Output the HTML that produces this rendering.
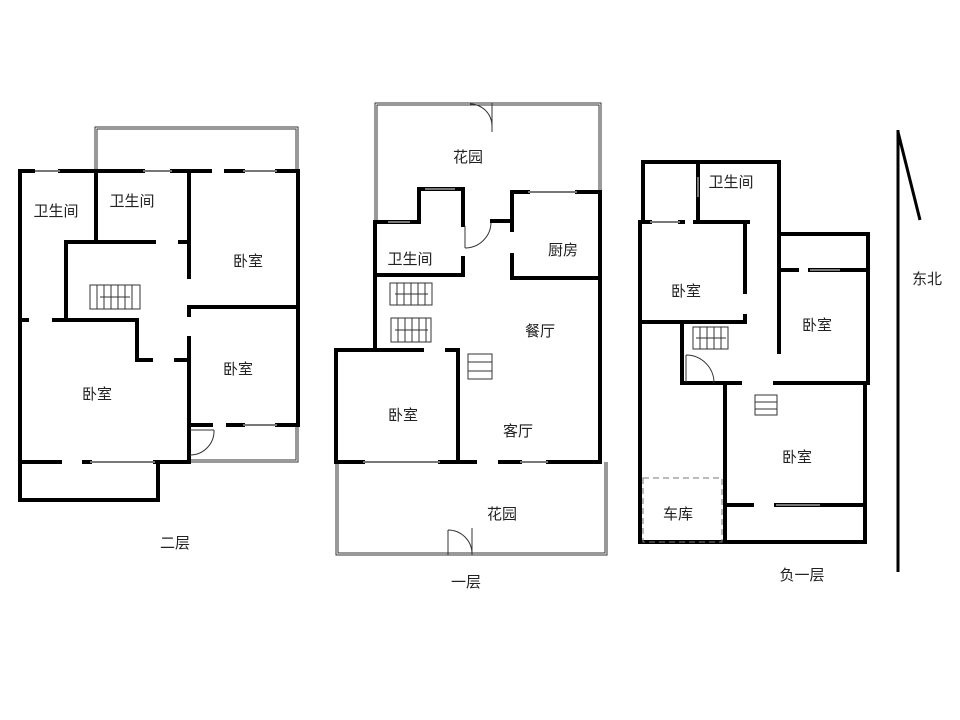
<!DOCTYPE html>
<html><head><meta charset="utf-8"><style>
html,body{margin:0;padding:0;background:#fff;}
svg{display:block;}
text{font-family:"Liberation Sans","Noto Sans CJK SC",sans-serif;font-size:15px;fill:#222;text-anchor:middle;dominant-baseline:middle;}
.w{stroke:#000;stroke-width:4;fill:none;stroke-linecap:square;}
.t{stroke:#333;stroke-width:1;fill:none;}
.win{stroke:#777;stroke-width:2;fill:none;}
</style></head><body>
<svg width="960" height="720" viewBox="0 0 960 720">
<!-- ===== 二层 ===== -->
<path class="t" d="M95 171 V127 H298 V171 M97 171 V129 H296 V171"/>
<path class="t" d="M298 425 V462 H190 M296 425 V460 H190"/>
<path class="w" d="M20 171 H33 M60 171 H143 M172 171 H210 M226 171 H243 M277 171 H298 V425"/>
<path class="win" d="M35 171 H60 M143 171 H172 M243 171 H277"/>
<path class="w" d="M20 171 V500 H158 V462 M20 462 H60 M84 462 H90 M155 462 H189"/>
<path class="win" d="M90 462 H155"/>
<path class="w" d="M96 171 V242 M66 242 H154 M66 242 V320 M20 320 H27 M54 320 H137 V360 H151"/>
<path class="w" d="M189 171 V277 M180 242 H189 M189 307 H298 M189 307 V315 M189 338 V462 M176 360 H189"/>
<path class="w" d="M189 425 H211 M228 425 H243 M277 425 H298"/>
<path class="win" d="M243 425 H277"/>
<path class="t" d="M190 430 H214 M214 430 A24 24 0 0 1 190 455"/>
<rect x="90" y="285" width="50" height="24" class="t"/>
<path class="t" d="M97 285V309M104 285V309M111 285V309M118 285V309M125 285V309M132 285V309M100 297H130"/>
<text x="56" y="212">卫生间</text>
<text x="132" y="202">卫生间</text>
<text x="248" y="262">卧室</text>
<text x="238" y="370">卧室</text>
<text x="97" y="395">卧室</text>
<text x="175" y="544">二层</text>
<!-- ===== 一层 ===== -->
<path class="t" d="M375 222 V103 H601 V192 M377 222 V105 H599 V192"/>
<path class="t" d="M336 462 V555 H607 V462 M338 462 V553 H605 V462"/>
<path class="t" d="M492 103 V132 M470 104 A22 22 0 0 1 492 126"/>
<path class="t" d="M448 555 V530 M448 530 A24 24 0 0 1 472 554 M472 528 V555"/>
<path class="w" d="M375 222 H419 V189 H463 V225 M463 258 V275 H375 M375 222 V350"/>
<path class="win" d="M388 222 H410 M425 189 H455"/>
<path class="t" d="M465 226 V248 M465 248 A26 26 0 0 0 491 222"/>
<path class="w" d="M492 221 H512 M512 192 V230 M512 255 V278 H600 M512 192 H528 M577 192 H600 V462"/>
<path class="win" d="M528 192 H577"/>
<path class="w" d="M336 350 H422 M447 350 H458 V462 M336 350 V462 H363 M440 462 H475 M500 462 H520 M548 462 H600"/>
<path class="win" d="M363 462 H440 M520 462 H548"/>
<rect x="390" y="283" width="42" height="22" class="t"/>
<path class="t" d="M397 283V305M404 283V305M411 283V305M418 283V305M425 283V305M395 294H428"/>
<rect x="391" y="318" width="40" height="24" class="t"/>
<path class="t" d="M398 318V342M405 318V342M412 318V342M419 318V342M426 318V342M395 330H428"/>
<rect x="468" y="354" width="24" height="25" class="t"/>
<path class="t" d="M468 362H492M468 371H492"/>
<text x="468" y="158">花园</text>
<text x="410" y="260">卫生间</text>
<text x="563" y="251">厨房</text>
<text x="540" y="332">餐厅</text>
<text x="403" y="416">卧室</text>
<text x="518" y="432">客厅</text>
<text x="502" y="515">花园</text>
<text x="466" y="583">一层</text>
<!-- ===== 负一层 ===== -->
<path class="w" d="M643 162 H779 V233 M643 162 V222 M698 162 V222"/>
<path class="win" d="M698 177 V197"/>
<path class="w" d="M640 222 H650 M680 222 H683 M695 222 H748 M745 222 V292 M745 316 V322 H640 M640 222 V542 H865"/>
<path class="win" d="M650 222 H680"/>
<path class="w" d="M779 234 H868 V383 M779 234 V352 M779 270 H797 M810 270 H868"/>
<path class="win" d="M810 270 H840"/>
<path class="w" d="M682 322 V383 H740 M775 383 H868 M725 383 V542 M865 383 V542 M725 505 H752 M776 505 H865"/>
<path class="win" d="M776 505 H820"/>
<path class="t" d="M686 355 V382 M686 355 A28 28 0 0 1 714 383"/>
<rect x="693" y="327" width="35" height="22" class="t"/>
<path class="t" d="M700 327V349M707 327V349M714 327V349M721 327V349M696 338H726"/>
<rect x="755" y="395" width="22" height="20" class="t"/>
<path class="t" d="M755 402H777M755 409H777"/>
<rect x="643" y="478" width="79" height="64" fill="none" stroke="#777" stroke-width="1" stroke-dasharray="6,4"/>
<text x="731" y="183">卫生间</text>
<text x="686" y="292">卧室</text>
<text x="817" y="326">卧室</text>
<text x="797" y="458">卧室</text>
<text x="678" y="515">车库</text>
<text x="802" y="576">负一层</text>
<!-- north -->
<path d="M898 130 V572" stroke="#000" stroke-width="3"/>
<path d="M898 132 L920 220" stroke="#000" stroke-width="3"/>
<text x="927" y="280">东北</text>
</svg>
</body></html>
